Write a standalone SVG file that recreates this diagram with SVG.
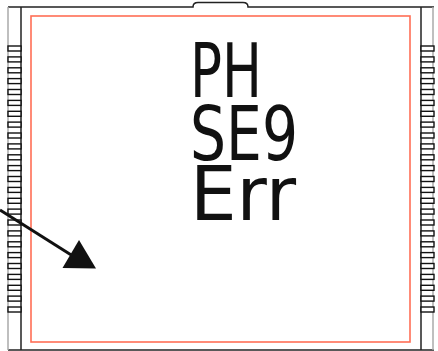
<svg xmlns="http://www.w3.org/2000/svg" width="438" height="351" viewBox="0 0 438 351">
  <defs>
    <style>
      .frame { fill: none; stroke: #222; stroke-width: 1.5; }
      .rail { fill: none; stroke: #aaa; stroke-width: 1.5; }
      .rung { fill: #fff; stroke: #111; stroke-width: 1.4; }
      .lcd { font-family: "DejaVu Sans", "Liberation Sans", sans-serif; font-size: 74px; fill: #111; }
    </style>
    <rect id="rl" class="rung" x="8" y="0" width="13" height="5"/>
    <rect id="rr" class="rung" x="421" y="0" width="13" height="5"/>
  </defs>
  <rect width="438" height="351" fill="#fff"/>

  <g id="housing">
    <path class="frame" d="M8,7 H193 Q193,2.5 198,2.5 H243 Q248,2.5 248,7 H434"/>
    <line class="frame" x1="8" y1="350" x2="434" y2="350"/>
    <line class="rail" x1="8" y1="7" x2="8" y2="350"/>
    <line class="frame" x1="21" y1="7" x2="21" y2="350"/>
    <line class="frame" x1="421" y1="7" x2="421" y2="350"/>
    <line class="rail" x1="433" y1="7" x2="433" y2="350"/>
  </g>

  <g id="left-ladder">
    <use href="#rl" y="46"/><use href="#rl" y="56.9"/><use href="#rl" y="67.8"/><use href="#rl" y="78.6"/>
    <use href="#rl" y="89.5"/><use href="#rl" y="100.4"/><use href="#rl" y="111.3"/><use href="#rl" y="122.1"/>
    <use href="#rl" y="133"/><use href="#rl" y="143.9"/><use href="#rl" y="154.8"/><use href="#rl" y="165.6"/>
    <use href="#rl" y="176.5"/><use href="#rl" y="187.4"/><use href="#rl" y="198.3"/><use href="#rl" y="209.1"/>
    <use href="#rl" y="220"/><use href="#rl" y="230.9"/><use href="#rl" y="241.8"/><use href="#rl" y="252.6"/>
    <use href="#rl" y="263.5"/><use href="#rl" y="274.4"/><use href="#rl" y="285.3"/><use href="#rl" y="296.1"/>
    <use href="#rl" y="307"/>
  </g>

  <g id="right-ladder">
    <use href="#rr" y="46"/><use href="#rr" y="56.9"/><use href="#rr" y="67.8"/><use href="#rr" y="78.6"/>
    <use href="#rr" y="89.5"/><use href="#rr" y="100.4"/><use href="#rr" y="111.3"/><use href="#rr" y="122.1"/>
    <use href="#rr" y="133"/><use href="#rr" y="143.9"/><use href="#rr" y="154.8"/><use href="#rr" y="165.6"/>
    <use href="#rr" y="176.5"/><use href="#rr" y="187.4"/><use href="#rr" y="198.3"/><use href="#rr" y="209.1"/>
    <use href="#rr" y="220"/><use href="#rr" y="230.9"/><use href="#rr" y="241.8"/><use href="#rr" y="252.6"/>
    <use href="#rr" y="263.5"/><use href="#rr" y="274.4"/><use href="#rr" y="285.3"/><use href="#rr" y="296.1"/>
    <use href="#rr" y="307"/>
  </g>

  <g id="display">
    <rect x="31" y="16" width="379" height="326" fill="none" stroke="#ff6e55" stroke-width="1.6"/>
    <text class="lcd"><tspan x="190" y="97" textLength="72" lengthAdjust="spacingAndGlyphs">PH</tspan><tspan x="190" y="160" textLength="108" lengthAdjust="spacingAndGlyphs">SE9</tspan><tspan x="190" y="220" textLength="106" lengthAdjust="spacingAndGlyphs">Err</tspan></text>
  </g>

  <g id="connectors">
    <line x1="0" y1="210" x2="76" y2="258" stroke="#111" stroke-width="3"/>
    <polygon points="62.5,268 96,268.5 79,240" fill="#111"/>
  </g>
</svg>
